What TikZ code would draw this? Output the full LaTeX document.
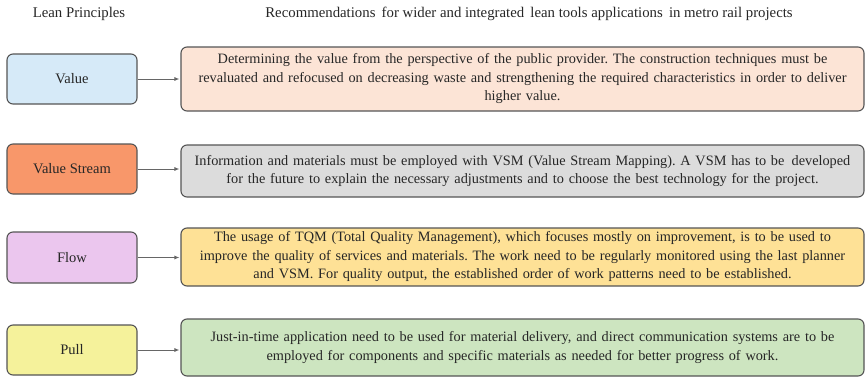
\documentclass[tikz,border=0pt]{standalone}
\usepackage{fontspec}
\setmainfont{Liberation Serif}
\usetikzlibrary{arrows.meta}
\frenchspacing

\definecolor{cValue}{HTML}{D6EAF8}
\definecolor{cValueR}{HTML}{FCE4D6}
\definecolor{cStream}{HTML}{F8976A}
\definecolor{cStreamR}{HTML}{DCDCDC}
\definecolor{cFlow}{HTML}{EBC6EE}
\definecolor{cFlowR}{HTML}{FEE196}
\definecolor{cPull}{HTML}{F5F29B}
\definecolor{cPullR}{HTML}{CDE5C0}
\definecolor{edge}{HTML}{555555}

\tikzset{
  box/.style={draw=edge, line width=1.1pt, rounded corners=6pt, inner sep=0pt,
    align=center, text=black!85},
  principle/.style={box, minimum width=130pt, font=\fontsize{14.5}{18}\selectfont},
  advice/.style={box, minimum width=683pt, text width=675pt,
    font=\fontsize{14.3}{18.5}\selectfont},
  heading/.style={font=\fontsize{14.8}{18}\selectfont, text=black!85},
  link/.style={draw=gray!80!black, line width=0.9pt, -{Latex[length=5pt,width=4pt]}, shorten >=1pt}
}

\begin{document}
\begin{tikzpicture}[x=1pt,y=1pt]
  \useasboundingbox (0,0) rectangle (867,384);

  % column headings
  \node[heading] (hL) at (79,370) {Lean Principles};
  \node[heading] (hR) at (529,370) {Recommendations\, for wider and integrated\, lean tools applications\, in metro rail projects};

  % lean principles
  \node[principle, fill=cValue,  minimum height=50pt] (p1) at (72,305) {Value};
  \node[principle, fill=cStream, minimum height=50pt] (p2) at (72,215) {Value Stream};
  \node[principle, fill=cFlow,   minimum height=51pt] (p3) at (72,126.5) {Flow};
  \node[principle, fill=cPull,   minimum height=50pt] (p4) at (72,34) {Pull};

  % recommendations
  \node[advice, fill=cValueR, minimum height=64pt] (r1) at (522.5,305) {Determining the value from the perspective of the public provider. The construction techniques must be\\
    revaluated and refocused on decreasing waste and strengthening the required characteristics in order to deliver\\
    higher value.};
  \node[advice, fill=cStreamR, minimum height=52pt] (r2) at (522.5,213) {Information and materials must be employed with VSM (Value Stream Mapping). A VSM has to be\, developed\\
    for the future to explain the necessary adjustments and to choose the best technology for the project.};
  \node[advice, fill=cFlowR, minimum height=58pt] (r3) at (522.5,127) {The usage of TQM (Total Quality Management), which focuses mostly on improvement, is to be used to\\
    improve the quality of services and materials. The work need to be regularly monitored using the last planner\\
    and VSM. For quality output, the established order of work patterns need to be established.};
  \node[advice, fill=cPullR, minimum height=57pt] (r4) at (522.5,36.5) {Just-in-time application need to be used for material delivery, and direct communication systems are to be\\
    employed for components and specific materials as needed for better progress of work.};

  % connectors
  \foreach \i in {1,2,3,4}
    \draw[link] (p\i.east) -- (p\i.east -| r\i.west);
\end{tikzpicture}
\end{document}
